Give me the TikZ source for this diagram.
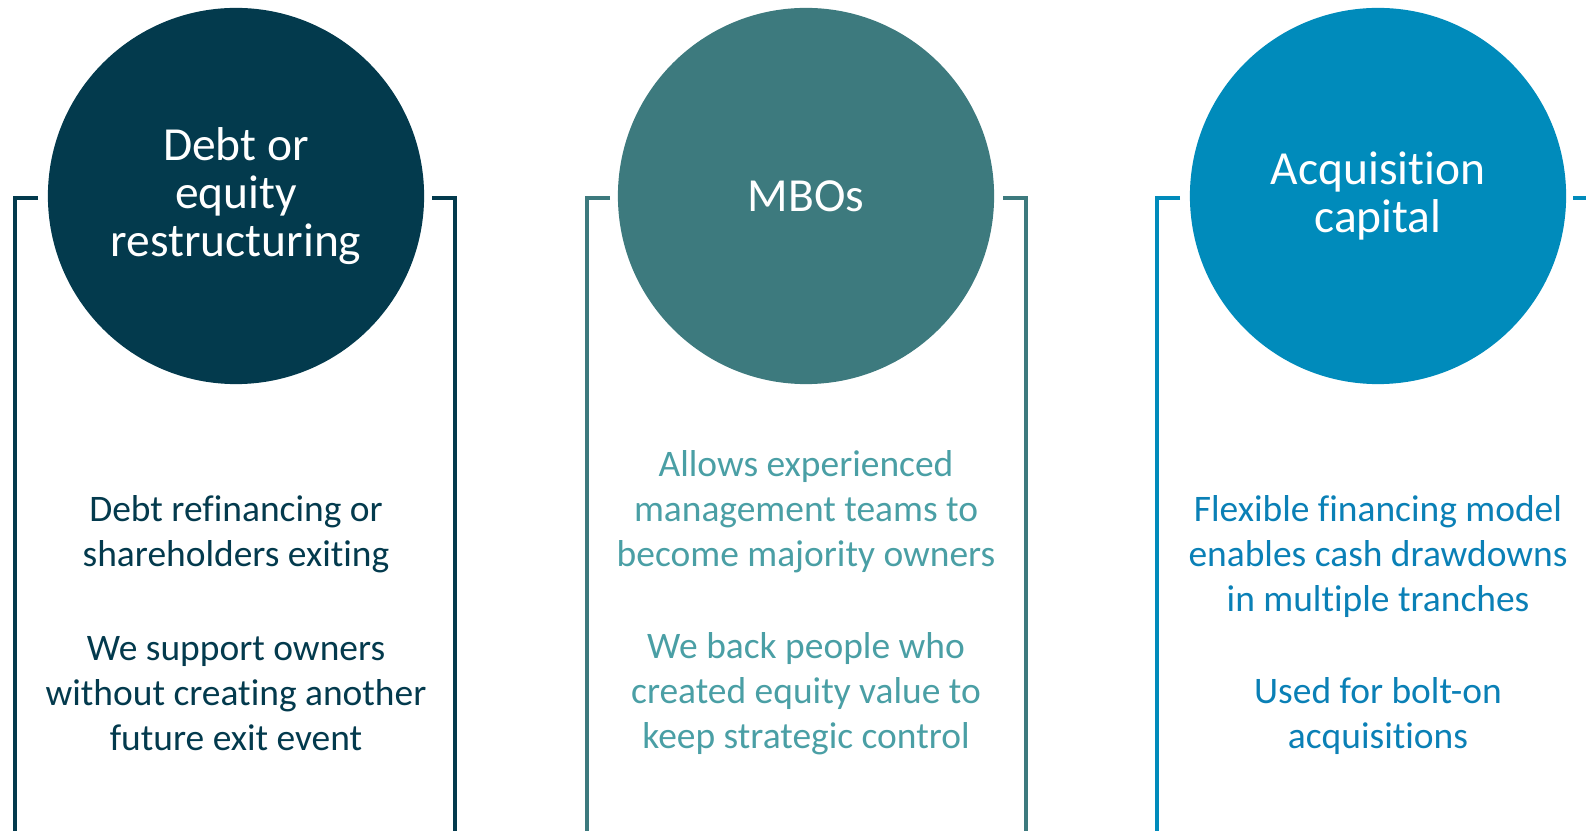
\documentclass[tikz,border=0pt]{standalone}
\usepackage{fontspec}
\setmainfont{Carlito}[Ligatures=CommonOff]
\definecolor{navy}{HTML}{033A4D}
\definecolor{teal}{HTML}{3D7A7E}
\definecolor{tealtext}{HTML}{4A9FA5}
\definecolor{ocean}{HTML}{008BBB}
\definecolor{oceantext}{HTML}{0A80B6}
\begin{document}
\begin{tikzpicture}[x=0.01cm,y=-0.01cm]
	\tikzstyle{rond}=[circle,inner sep=0pt,minimum size=3.76cm,text=white,align=center,font=\fontsize{13.5}{13.6}\selectfont]
	\tikzstyle{texte}=[align=center,inner sep=0pt,font=\fontsize{10.65}{12.8}\selectfont]
	\tikzstyle{crochet}=[line width=1.2pt,line join=miter]
	\def\Haut{198}\def\Bas{840}
	\useasboundingbox (0,0) rectangle (1586,831);
	\clip (0,0) rectangle (1586,831);
	% colonne 1
	\node[rond,fill=navy] (C1) at (236,196) {Debt or\\equity\\restructuring};
	\node[texte,text=navy] (T1a) at (236,534) {Debt refinancing or\\shareholders exiting};
	\node[texte,text=navy] (T1b) at (236,694) {We support owners\\without creating another\\future exit event};
	\draw[crochet,navy] (38,\Haut)--(15,\Haut)--(15,\Bas);
	\draw[crochet,navy] (432,\Haut)--(455,\Haut)--(455,\Bas);
	% colonne 2
	\node[rond,fill=teal] (C2) at (806,196) {MBOs};
	\node[texte,text=tealtext] (T2a) at (806,512) {Allows experienced\\management teams to\\become majority owners};
	\node[texte,text=tealtext] (T2b) at (806,694) {We back people who\\created equity value to\\keep strategic control};
	\draw[crochet,teal] (610,\Haut)--(587,\Haut)--(587,\Bas);
	\draw[crochet,teal] (1003,\Haut)--(1026,\Haut)--(1026,\Bas);
	% colonne 3
	\node[rond,fill=ocean] (C3) at (1378,196) {Acquisition\\capital};
	\node[texte,text=oceantext] (T3a) at (1378,557) {Flexible financing model\\enables cash drawdowns\\in multiple tranches};
	\node[texte,text=oceantext] (T3b) at (1378,716) {Used for bolt-on\\acquisitions};
	\draw[crochet,ocean] (1180,\Haut)--(1157,\Haut)--(1157,\Bas);
	\draw[crochet,ocean] (1573,\Haut)--(1596,\Haut)--(1596,\Bas);
\end{tikzpicture}
\end{document}
